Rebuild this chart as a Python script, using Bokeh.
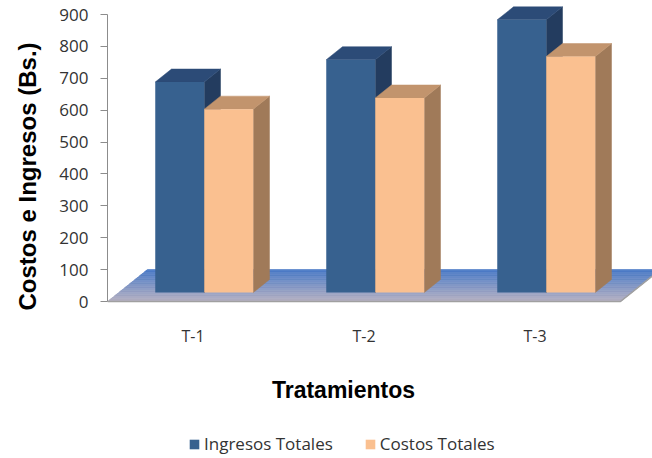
from bokeh.plotting import figure
from bokeh.models import Range1d, FixedTicker, Legend, LegendItem, Title
from bokeh.core.properties import value
from bokeh.embed import file_html
from bokeh.resources import INLINE

# --- data -------------------------------------------------------------
categories = ["T-1", "T-2", "T-3"]
ingresos_totales = [660, 730, 855]
costos_totales = [575, 610, 740]
series_names = ["Ingresos Totales", "Costos Totales"]
value_ticks = [0, 100, 200, 300, 400, 500, 600, 700, 800, 900]

# --- layout constants ---------------------------------------------------
W, H = 652, 458
FRAME_LEFT = 107          # pixels reserved for the value axis
ZERO_PX = 301             # pixel row of value 0 (front of the floor)
PX_PER_VALUE = 287 / 900  # vertical scale
CAT_PX = 171              # width of one category slot in pixels
SLANT = 1.25              # horizontal shift per pixel of depth (oblique view)
BAR_W = 49 / CAT_PX       # width of a single column in category units
BAR_Z0, BAR_Z1 = 9, 22    # front and back planes of the columns (depth px)
FLOOR_Z = 32              # depth of the floor (px)
CAT_LABEL_BASE_PX = 335   # baseline of the category names
XTITLE_BASE_PX = 389      # baseline of the horizontal axis title
XTITLE_CENTER_PX = 343    # horizontal centre of that title


def px_to_y(py):
    return (ZERO_PX - py) / PX_PER_VALUE


def px_to_x(px):
    return (px - FRAME_LEFT) / CAT_PX


def shift(z):
    """Oblique offset (x units, value units) for a depth of z pixels."""
    return SLANT * z / CAT_PX, z / PX_PER_VALUE


def lerp_hex(c0, c1, t):
    a = [int(c0[i:i + 2], 16) for i in (1, 3, 5)]
    b = [int(c1[i:i + 2], 16) for i in (1, 3, 5)]
    return "#" + "".join(f"{round(x + (y - x) * t):02x}" for x, y in zip(a, b))


p = figure(frame_width=W - FRAME_LEFT, frame_height=H,
           output_backend="svg", toolbar_location=None,
           x_range=Range1d(0, px_to_x(W)),
           y_range=Range1d(px_to_y(H), px_to_y(0)),
           min_border_left=FRAME_LEFT, min_border_right=0,
           min_border_top=0, min_border_bottom=0)
p.outline_line_color = None
p.grid.visible = False
p.xaxis.visible = False
p.background_fill_color = "white"
p.border_fill_color = "white"

# --- floor (gradient from grey-lavender at the front to blue at the back) --
n_cats = len(categories)
steps = 24
fxs, fys, fcols = [], [], []
for k in range(steps):
    za, zb = FLOOR_Z * k / steps, FLOOR_Z * (k + 1) / steps
    (ax, ay), (bx, by) = shift(za), shift(zb)
    fxs.append([ax, n_cats + ax, n_cats + bx, bx])
    fys.append([ay, ay, by, by])
    fcols.append(lerp_hex("#b6b0c0", "#4677c6", (k + 0.5) / steps))
p.patches(fxs, fys, fill_color=fcols, line_color=fcols, line_width=0.6)
bx_, by_ = shift(FLOOR_Z)
p.line([0, n_cats, n_cats + bx_], [0, 0, by_], line_color="#a0a0a0", line_width=1.6)

# --- 3-D columns ---------------------------------------------------------
ox0, oy0 = shift(BAR_Z0)
ox1, oy1 = shift(BAR_Z1)
styles = [
    dict(front="#37618f", top="#2c4b77", side="#233c5f"),
    dict(front="#fac090", top="#c2946d", side="#a07a59"),
]
front_renderers = []
for s, values in enumerate([ingresos_totales, costos_totales]):
    lefts = [i + 0.5 - BAR_W + s * BAR_W for i in range(n_cats)]
    side_x = [[l + BAR_W + ox0, l + BAR_W + ox1, l + BAR_W + ox1, l + BAR_W + ox0] for l in lefts]
    side_y = [[oy0, oy1, v + oy1, v + oy0] for v in values]
    top_x = [[l + ox0, l + BAR_W + ox0, l + BAR_W + ox1, l + ox1] for l in lefts]
    top_y = [[v + oy0, v + oy0, v + oy1, v + oy1] for v in values]
    st = styles[s]
    p.patches(side_x, side_y, fill_color=st["side"], line_color=st["side"], line_width=0.5)
    p.patches(top_x, top_y, fill_color=st["top"], line_color=st["top"], line_width=0.5)
    r = p.quad(left=[l + ox0 for l in lefts], right=[l + BAR_W + ox0 for l in lefts],
               bottom=[oy0] * n_cats, top=[v + oy0 for v in values],
               fill_color=st["front"], line_color=None)
    front_renderers.append(r)

# --- value axis ------------------------------------------------------------
yax = p.yaxis[0]
yax.ticker = FixedTicker(ticks=value_ticks)
yax.bounds = (0, 900)
yax.axis_line_color = "#8c8c8c"
yax.major_tick_line_color = "#8c8c8c"
yax.major_tick_out = 7
yax.major_tick_in = 0
yax.minor_tick_line_color = None
yax.major_label_standoff = 12
yax.major_label_text_font = "Open Sans"
yax.major_label_text_font_size = "17px"
yax.major_label_text_color = "#333333"

p.add_layout(Title(text="Costos e Ingresos (Bs.)", align="left",
                   offset=H - 310,
                   text_font="Liberation Sans", text_font_style="bold",
                   text_font_size="24px", text_color="black",
                   vertical_align="top", standoff=27), "left")

# --- category names and horizontal axis title ---------------------------------
p.text(x=[i + 0.5 for i in range(n_cats)], y=[px_to_y(CAT_LABEL_BASE_PX)] * n_cats,
       text=categories, text_font=value("Open Sans"), text_font_size="16px",
       text_color="#333333", text_align="center", text_baseline="alphabetic")
p.text(x=[px_to_x(XTITLE_CENTER_PX)], y=[px_to_y(XTITLE_BASE_PX)],
       text=["Tratamientos"], text_font=value("Liberation Sans"),
       text_font_style="bold", text_font_size="23px", text_color="black",
       text_align="center", text_baseline="alphabetic")

# --- legend (frame pixel offsets from the bottom-left corner) --------------------
legend = Legend(items=[LegendItem(label=n, renderers=[r])
                       for n, r in zip(series_names, front_renderers)],
                orientation="horizontal", location=(81, 3),
                glyph_width=12, glyph_height=12, label_standoff=4, spacing=31,
                padding=0, margin=0, border_line_color=None,
                background_fill_alpha=0,
                label_text_font="Open Sans", label_text_font_size="17px",
                label_text_color="#333333")
p.add_layout(legend, "center")

open("out.html", "w").write(file_html(p, INLINE))
